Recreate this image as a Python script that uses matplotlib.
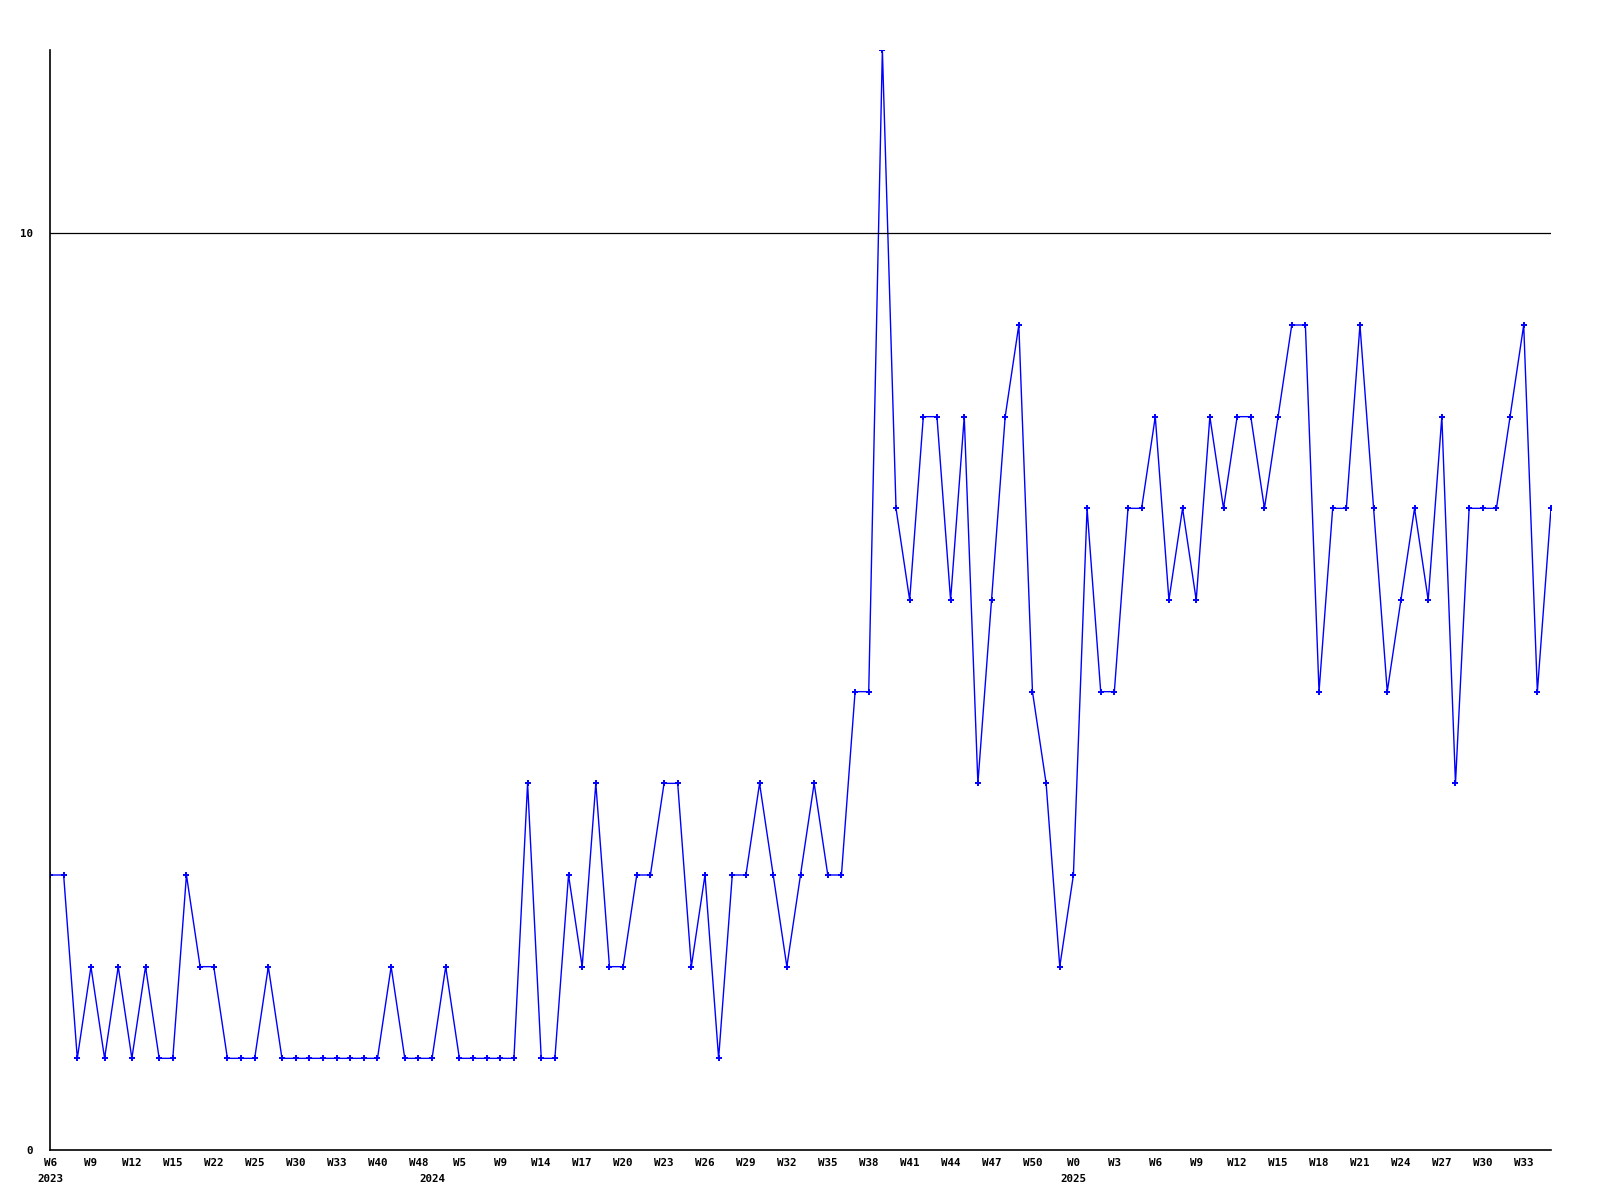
import matplotlib
matplotlib.use('Agg')
import matplotlib.pyplot as plt
import numpy as np

# weekly values, one per point (111 points)
values = [3, 3, 1, 2, 1, 2, 1, 2, 1, 1,
          3, 2, 2, 1, 1, 1, 2, 1, 1, 1,
          1, 1, 1, 1, 1, 2, 1, 1, 1, 2,
          1, 1, 1, 1, 1, 4, 1, 1, 3, 2,
          4, 2, 2, 3, 3, 4, 4, 2, 3, 1,
          3, 3, 4, 3, 2, 3, 4, 3, 3, 5,
          5, 12, 7, 6, 8, 8, 6, 8, 4, 6,
          8, 9, 5, 4, 2, 3, 7, 5, 5, 7,
          7, 8, 6, 7, 6, 8, 7, 8, 8, 7,
          8, 9, 9, 5, 7, 7, 9, 7, 5, 6,
          7, 6, 8, 4, 7, 7, 7, 8, 9, 5,
          7]

# tick labels every 3rd point
week_labels = ['W6', 'W9', 'W12', 'W15', 'W22', 'W25', 'W30', 'W33', 'W40',
               'W48', 'W5', 'W9', 'W14', 'W17', 'W20', 'W23', 'W26', 'W29',
               'W32', 'W35', 'W38', 'W41', 'W44', 'W47', 'W50', 'W0', 'W3',
               'W6', 'W9', 'W12', 'W15', 'W18', 'W21', 'W24', 'W27', 'W30',
               'W33']
years = ['2023', '2024', '2025']
year_pos = [0, 28, 75]

x = np.arange(len(values))

fig = plt.figure(figsize=(16, 12), dpi=100)
ax = fig.add_axes([50/1600, 50/1200, 1501/1600, 1100/1200])

ax.plot(x, values, color='#0000ff', linewidth=1.0, marker='+',
        markersize=4, markeredgewidth=1.4)
ax.axhline(10, color='black', linewidth=0.9)

ax.set_xlim(0, len(values) - 1)
ax.set_ylim(0, 12)

for s in ['top', 'right']:
  ax.spines[s].set_visible(False)
for s in ['left', 'bottom']:
  ax.spines[s].set_linewidth(1.2)

font = dict(family='DejaVu Sans Mono', weight='bold', size=7.8)

ax.set_xticks(x[::3])
ax.set_xticklabels(week_labels, **font)
ax.set_yticks([0, 10])
ax.set_yticklabels(['0', '10'], **font)
ax.tick_params(axis='both', length=0)
ax.tick_params(axis='x', pad=6)
ax.tick_params(axis='y', pad=12)

for yr, p in zip(years, year_pos):
  ax.annotate(yr, xy=(p, 0), xycoords='data', xytext=(0, -17),
              textcoords='offset points', ha='center', va='top', **font)

fig.savefig('out.png', dpi=100)
